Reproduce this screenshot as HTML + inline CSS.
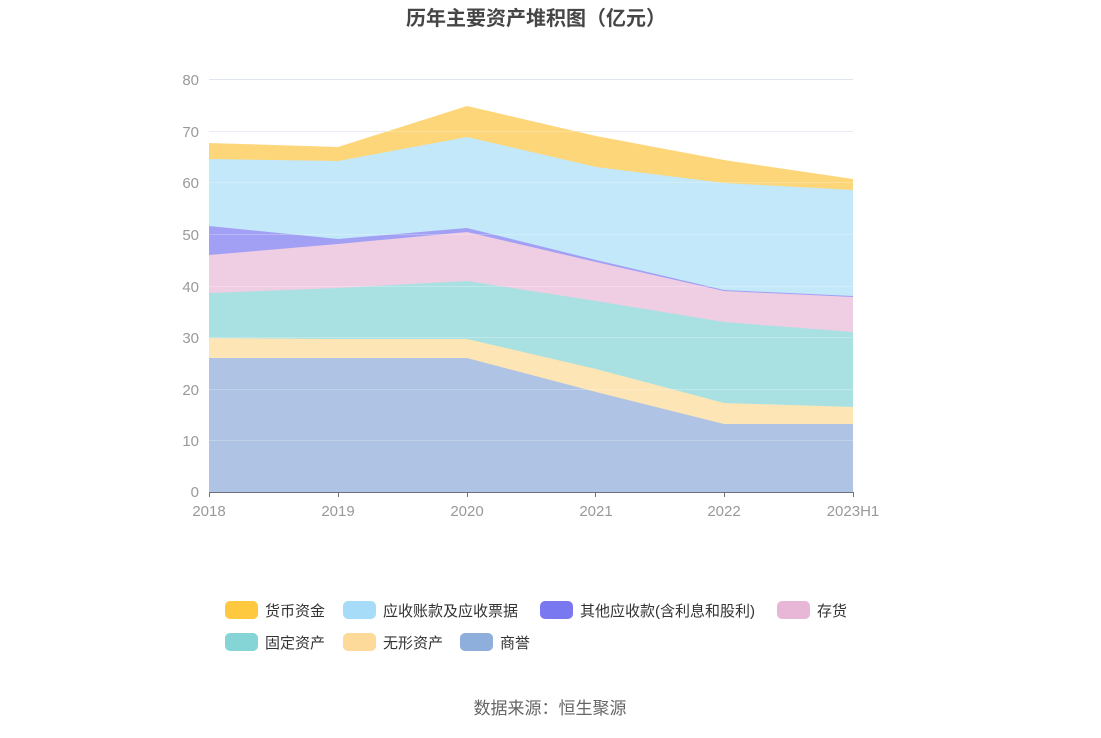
<!DOCTYPE html>
<html><head><meta charset="utf-8"><style>
body{margin:0;background:#fff;font-family:"Liberation Sans","Noto Sans CJK SC",sans-serif;}
</style></head><body>
<svg width="1101" height="733" xmlns="http://www.w3.org/2000/svg" style="font-family:'Liberation Sans','Noto Sans CJK SC',sans-serif">
<text x="536" y="25" text-anchor="middle" font-size="20" font-weight="bold" fill="#464646">历年主要资产堆积图（亿元）</text>
<g stroke="#e0e6f1" stroke-width="1">
<line x1="209" y1="79.5" x2="853" y2="79.5"/><line x1="209" y1="131.5" x2="853" y2="131.5"/><line x1="209" y1="182.5" x2="853" y2="182.5"/><line x1="209" y1="234.5" x2="853" y2="234.5"/><line x1="209" y1="286.5" x2="853" y2="286.5"/><line x1="209" y1="337.5" x2="853" y2="337.5"/><line x1="209" y1="389.5" x2="853" y2="389.5"/><line x1="209" y1="440.5" x2="853" y2="440.5"/>
</g>
<g fill="#999" font-size="15" text-anchor="end">
<text x="199" y="85">80</text><text x="199" y="137">70</text><text x="199" y="188">60</text><text x="199" y="240">50</text><text x="199" y="292">40</text><text x="199" y="343">30</text><text x="199" y="395">20</text><text x="199" y="446">10</text><text x="199" y="497">0</text>
</g>
<polygon fill="#fed67a" points="209,143 338,147 467,106 596,136 724,160 853,179 853,492 209,492"/>
<polygon fill="#c3e8fa" points="209,159 338,161 467,137 596,167 724,183 853,190 853,492 209,492"/>
<polygon fill="#a1a0f4" points="209,226 338,239 467,228 596,260 724,290 853,296 853,492 209,492"/>
<polygon fill="#efcde3" points="209,255 338,244 467,232 596,262 724,291 853,297 853,492 209,492"/>
<polygon fill="#a9e1e2" points="209,293 338,288 467,281 596,301 724,322 853,332 853,492 209,492"/>
<polygon fill="#fde5b6" points="209,338 338,339 467,339 596,369 724,403 853,407 853,492 209,492"/>
<polygon fill="#afc3e5" points="209,358 338,358 467,358 596,392 724,424 853,424 853,492 209,492"/>
<g stroke="#ffffff" stroke-opacity="0.25"><line x1="209" y1="131.5" x2="853" y2="131.5"/><line x1="209" y1="182.5" x2="853" y2="182.5"/><line x1="209" y1="234.5" x2="853" y2="234.5"/><line x1="209" y1="286.5" x2="853" y2="286.5"/><line x1="209" y1="337.5" x2="853" y2="337.5"/><line x1="209" y1="389.5" x2="853" y2="389.5"/><line x1="209" y1="440.5" x2="853" y2="440.5"/></g>
<line x1="209" y1="492.5" x2="853" y2="492.5" stroke="#6e7079"/>
<g stroke="#6e7079"><line x1="209.5" y1="492" x2="209.5" y2="497"/><line x1="338.5" y1="492" x2="338.5" y2="497"/><line x1="467.5" y1="492" x2="467.5" y2="497"/><line x1="595.5" y1="492" x2="595.5" y2="497"/><line x1="724.5" y1="492" x2="724.5" y2="497"/><line x1="853.5" y1="492" x2="853.5" y2="497"/></g>
<g fill="#999" font-size="15" text-anchor="middle">
<text x="209" y="516">2018</text><text x="338" y="516">2019</text><text x="467" y="516">2020</text><text x="596" y="516">2021</text><text x="724" y="516">2022</text><text x="853" y="516">2023H1</text>
</g>
<g font-size="15" fill="#333">
<rect x="225" y="601" width="33" height="18" rx="5" fill="#fec93f"/><text x="265" y="616">货币资金</text>
<rect x="343" y="601" width="33" height="18" rx="5" fill="#a7dcf8"/><text x="383" y="616">应收账款及应收票据</text>
<rect x="540" y="601" width="33" height="18" rx="5" fill="#7a78f0"/><text x="580" y="616">其他应收款(含利息和股利)</text>
<rect x="777" y="601" width="33" height="18" rx="5" fill="#e8b6d6"/><text x="817" y="616">存货</text>
<rect x="225" y="633" width="33" height="18" rx="5" fill="#86d5d6"/><text x="265" y="648">固定资产</text>
<rect x="343" y="633" width="33" height="18" rx="5" fill="#fdd99a"/><text x="383" y="648">无形资产</text>
<rect x="460" y="633" width="33" height="18" rx="5" fill="#8eaedc"/><text x="500" y="648">商誉</text>
</g>
<text x="550" y="714" text-anchor="middle" font-size="17" fill="#666">数据来源：恒生聚源</text>
</svg>
</body></html>
